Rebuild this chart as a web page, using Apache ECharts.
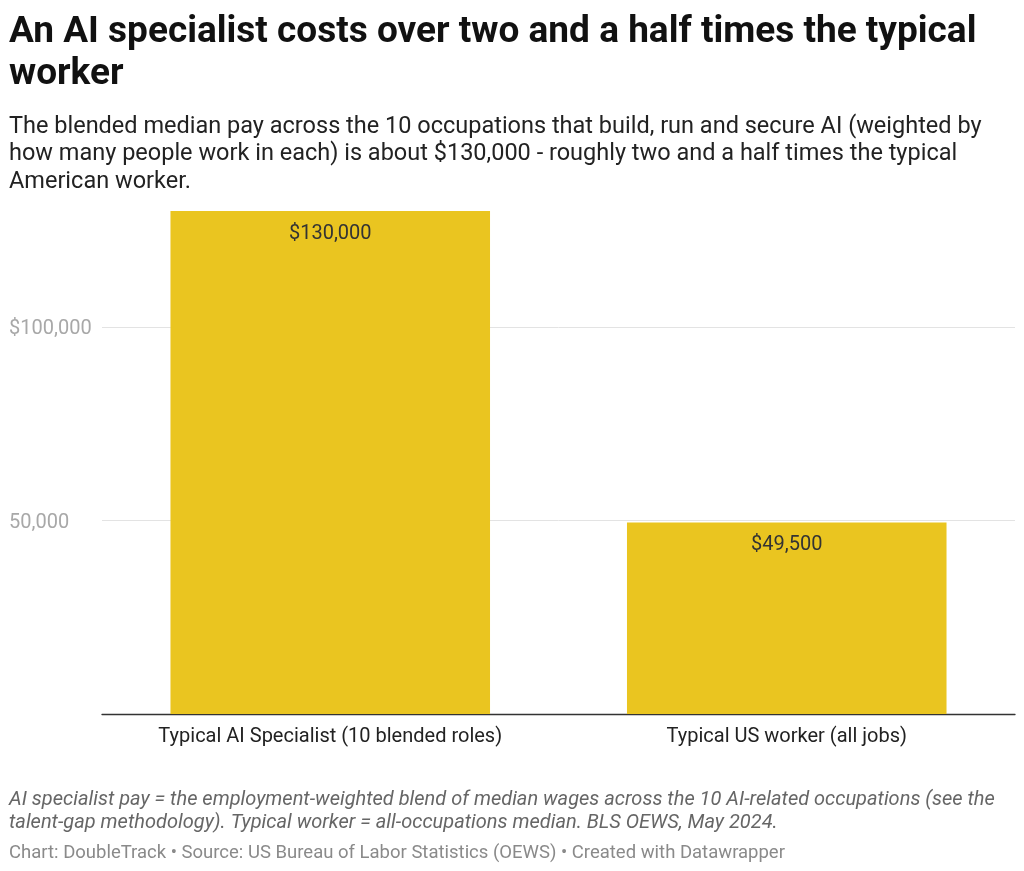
<!DOCTYPE html>
<html>
<head>
<meta charset="utf-8">
<script src="https://cdn.jsdelivr.net/npm/echarts@6/dist/echarts.min.js"></script>
<style>
  html, body { margin: 0; padding: 0; background: #fff; }
  #main { width: 1024px; height: 871px; }
</style>
</head>
<body>
<div id="main"></div>
<script>
// data
var categories = ['Typical AI Specialist (10 blended roles)', 'Typical US worker (all jobs)'];
var pay = [130000, 49500];
var payLabels = ['$130,000', '$49,500'];
var yTicks = [50000, 100000];
var yTickLabels = ['50,000', '$100,000'];

var FONT = 'Roboto, "Noto Sans", sans-serif';

var myChart = echarts.init(document.getElementById('main'), null, { renderer: 'canvas' });

var option = {
	backgroundColor: '#fff',
	animation: false,
	textStyle: { fontFamily: FONT },
	title: [{
		text: 'An AI specialist costs over two and a half times the typical\nworker',
		left: 9, top: 12, padding: 0,
		textStyle: { fontFamily: FONT, fontSize: 37, fontWeight: 'bold', color: '#111', lineHeight: 42 }
	}, {
		text: 'The blended median pay across the 10 occupations that build, run and secure AI (weighted by\n' +
			'how many people work in each) is about $130,000 - roughly two and a half times the typical\n' +
			'American worker.',
		left: 9, top: 113, padding: 0,
		textStyle: { fontFamily: FONT, fontSize: 23.5, fontWeight: 'normal', color: '#222', lineHeight: 27.5 }
	}, {
		text: 'AI specialist pay = the employment-weighted blend of median wages across the 10 AI-related occupations (see the\n' +
			'talent-gap methodology). Typical worker = all-occupations median. BLS OEWS, May 2024.',
		left: 9, top: 788, padding: 0,
		textStyle: { fontFamily: FONT, fontSize: 20, fontStyle: 'italic', fontWeight: 'normal', color: '#666', lineHeight: 23 }
	}, {
		text: 'Chart: DoubleTrack \u2022 Source: US Bureau of Labor Statistics (OEWS) \u2022 Created with Datawrapper',
		left: 9, top: 842, padding: 0,
		textStyle: { fontFamily: FONT, fontSize: 18.5, fontWeight: 'normal', color: '#8a8a8a', lineHeight: 22 }
	}],
	grid: { left: 102, right: 9, top: 211, bottom: 157, containLabel: false },
	xAxis: {
		type: 'category',
		data: categories,
		axisTick: { show: false },
		axisLine: { show: true, lineStyle: { color: '#333', width: 1.3 } },
		axisLabel: { color: '#222', fontSize: 20, margin: 13, fontFamily: FONT }
	},
	yAxis: {
		type: 'value',
		min: 0,
		max: 130000,
		interval: 50000,
		axisLine: { show: false },
		axisTick: { show: false },
		splitLine: { show: true, showMinLine: false, showMaxLine: false, lineStyle: { color: '#e3e3e3', width: 1 } },
		axisLabel: {
			showMinLabel: false,
			showMaxLabel: false,
			align: 'left',
			margin: 93,
			color: '#a8a8a8',
			fontSize: 20,
			fontFamily: FONT,
			rich: {
				t: { fontSize: 20, color: '#a8a8a8', fontFamily: FONT, padding: [4, 0, 0, 0] }
			},
			formatter: function (v) {
				var i = yTicks.indexOf(v);
				return i >= 0 ? '{t|' + yTickLabels[i] + '}' : '';
			}
		}
	},
	series: [{
		type: 'bar',
		data: pay,
		barWidth: '70%',
		itemStyle: { color: '#eac520' },
		label: {
			show: true,
			position: 'insideTop',
			distance: 13,
			color: '#333',
			fontSize: 20,
			fontFamily: FONT,
			formatter: function (p) { return payLabels[p.dataIndex]; }
		}
	}]
};

myChart.setOption(option);
</script>
</body>
</html>
